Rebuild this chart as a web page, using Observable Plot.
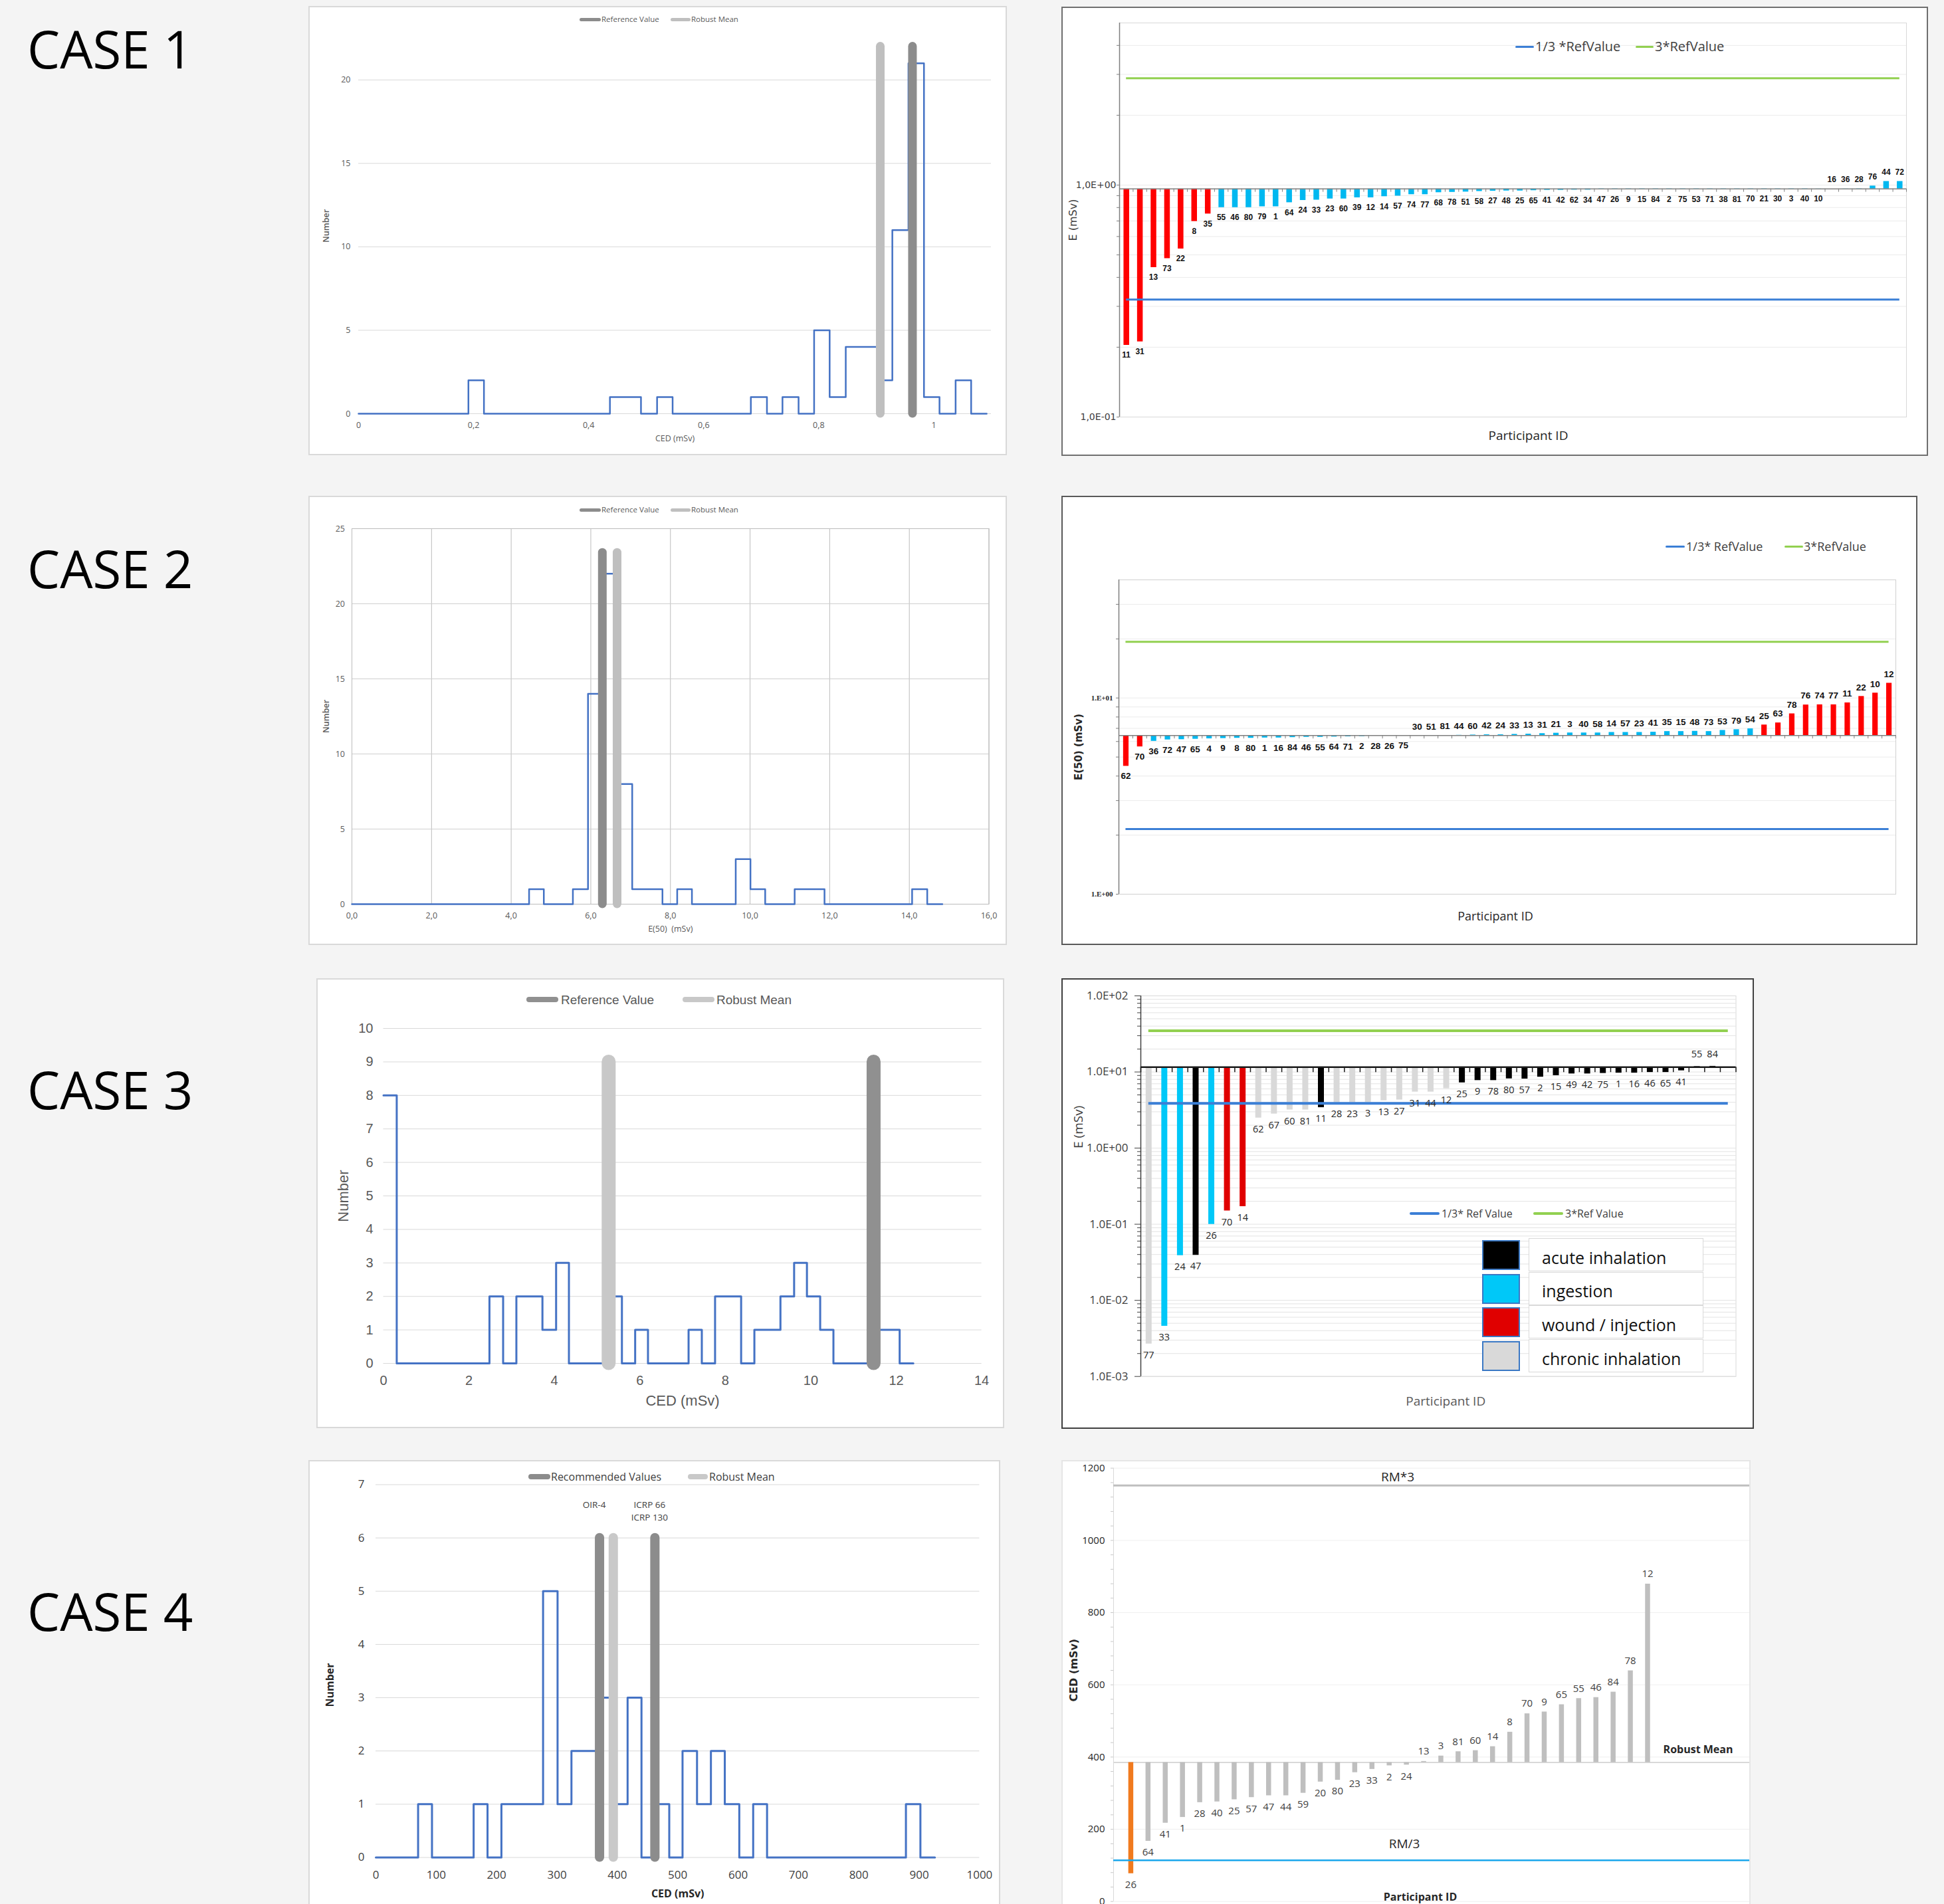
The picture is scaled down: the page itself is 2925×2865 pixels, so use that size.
<!DOCTYPE html>
<html>
<head>
<meta charset="utf-8">
<script src="https://cdn.jsdelivr.net/npm/d3@7"></script>
<script src="https://cdn.jsdelivr.net/npm/@observablehq/plot@0.6"></script>
<style>
html, body { margin: 0; padding: 0; }
body { width: 2925px; height: 2865px; background: #f4f4f4; position: relative; overflow: hidden; }
</style>
</head>
<body>
<script>
// ===================== DATA =====================
const caseLabels = ["CASE 1", "CASE 2", "CASE 3", "CASE 4"];

// ---- Case 1 : histogram of CED (mSv) ----
const c1HistEdges  = [0, 0.191, 0.218, 0.437, 0.491, 0.519, 0.546, 0.682, 0.710, 0.737, 0.765, 0.792, 0.819, 0.847, 0.901, 0.928, 0.956, 0.983, 1.010, 1.038, 1.065, 1.092];
const c1HistCounts = [0, 2, 0, 1, 0, 1, 0, 1, 0, 1, 0, 5, 1, 4, 2, 11, 21, 1, 0, 2, 0, 0];
const c1HistRobustMean = 0.907;
const c1HistReference = 0.963;
const c1HistXTicks = [0, 0.2, 0.4, 0.6, 0.8, 1];
const c1HistXLabels = ["0", "0,2", "0,4", "0,6", "0,8", "1"];
const c1HistYTicks = [0, 5, 10, 15, 20];

// ---- Case 1 : participants (E, mSv) ----
const c1Ids = [11,31,13,73,22,8,35,55,46,80,79,1,64,24,33,23,60,39,12,14,57,74,77,68,78,51,58,27,48,25,65,41,42,62,34,47,26,9,15,84,2,75,53,71,38,81,70,21,30,3,40,10,16,36,28,76,44,72];
const c1Values = [0.204,0.211,0.441,0.482,0.531,0.697,0.751,0.800,0.800,0.800,0.807,0.807,0.840,0.859,0.862,0.872,0.872,0.882,0.882,0.892,0.897,0.910,0.910,0.928,0.931,0.934,0.939,0.942,0.944,0.944,0.947,0.950,0.950,0.952,0.952,0.955,0.955,0.955,0.957,0.957,0.957,0.958,0.958,0.958,0.959,0.959,0.960,0.960,0.961,0.961,0.961,0.962,0.963,0.964,0.965,0.991,1.037,1.037];
const c1Routes = ["W","W","W","W","W","W","W",
  "I","I","I","I","I","I","I","I","I","I",
  "I","I","I","I","I","I","I","I","I","I",
  "I","I","I","I","I","I","I","I","I","I",
  "I","I","I","I","I","I","I","I","I","I",
  "I","I","I","I","I","I","I","I","I","I","I"];
const c1RefValue = 0.963;
const c1YTicks = [0.1, 1];
const c1YLabels = ["1,0E-01", "1,0E+00"];
const c1YMinor = [0.2,0.3,0.4,0.5,0.6,0.7,0.8,0.9,2,3,4];

// ---- Case 2 : histogram of E(50) (mSv) ----
const c2HistEdges  = [0, 4.45, 4.82, 5.55, 5.93, 6.29, 6.66, 7.04, 7.80, 8.17, 8.54, 9.64, 10.01, 10.38, 11.12, 11.87, 14.07, 14.45, 14.83];
const c2HistCounts = [0, 1, 0, 1, 14, 22, 8, 1, 0, 1, 0, 3, 1, 0, 1, 0, 1, 0, 0];
const c2HistReference = 6.29;
const c2HistRobustMean = 6.66;
const c2HistXTicks = [0, 2, 4, 6, 8, 10, 12, 14, 16];
const c2HistXLabels = ["0,0", "2,0", "4,0", "6,0", "8,0", "10,0", "12,0", "14,0", "16,0"];
const c2HistYTicks = [0, 5, 10, 15, 20, 25];

// ---- Case 2 : participants (E(50), mSv) ----
const c2Ids = [62,70,36,72,47,65,4,9,8,80,1,16,84,46,55,64,71,2,28,26,75,30,51,81,44,60,42,24,33,13,31,21,3,40,58,14,57,23,41,35,15,48,73,53,79,54,25,63,78,76,74,77,11,22,10,12];
const c2Values = [4.49,5.64,6.02,6.12,6.14,6.17,6.20,6.22,6.24,6.24,6.26,6.26,6.29,6.31,6.31,6.33,6.35,6.37,6.40,6.40,6.42,6.44,6.44,6.45,6.46,6.48,6.50,6.50,6.53,6.55,6.59,6.62,6.64,6.64,6.64,6.68,6.68,6.68,6.70,6.75,6.75,6.77,6.75,6.84,6.90,6.97,7.29,7.47,8.31,9.22,9.24,9.24,9.45,10.19,10.60,11.90];
const c2Routes = ["W","W",
  "I","I","I","I","I","I","I","I","I","I",
  "I","I","I","I","I","I","I","I","I","I",
  "I","I","I","I","I","I","I","I","I","I",
  "I","I","I","I","I","I","I","I","I","I",
  "I","I","I","I",
  "W","W","W","W","W","W","W","W","W","W"];
const c2RefValue = 6.44;
const c2YTicks = [1, 10];
const c2YLabels = ["1.E+00", "1.E+01"];
const c2YMinor = [2,3,4,5,6,7,8,9,20,30];

// ---- Case 3 : histogram of CED (mSv) ----
const c3HistEdges  = [0, 0.31, 2.48, 2.80, 3.11, 3.72, 4.04, 4.34, 5.27, 5.58, 5.89, 6.19, 7.14, 7.45, 7.76, 8.37, 8.68, 9.29, 9.61, 9.91, 10.22, 10.53, 11.46, 12.08, 12.40];
const c3HistCounts = [8, 0, 2, 0, 2, 1, 3, 0, 2, 0, 1, 0, 1, 0, 2, 0, 1, 2, 3, 2, 1, 0, 1, 0, 0];
const c3HistRobustMean = 5.27;
const c3HistReference = 11.47;
const c3HistXTicks = [0, 2, 4, 6, 8, 10, 12, 14];
const c3HistXLabels = ["0", "2", "4", "6", "8", "10", "12", "14"];
const c3HistYTicks = [0,1,2,3,4,5,6,7,8,9,10];

// ---- Case 3 : participants (E, mSv) ----
const c3Ids = [77,33,24,47,26,70,14,62,67,60,81,11,28,23,3,13,27,31,44,12,25,9,78,80,57,2,15,49,42,75,1,16,46,65,41,55,84];
const c3Values = [0.00267,0.00458,0.0388,0.0392,0.0995,0.150,0.171,2.49,2.81,3.18,3.18,3.41,3.92,3.97,4.0,4.2,4.3,5.46,5.46,6.06,7.22,7.74,7.74,8.15,8.1,8.58,8.98,9.46,9.46,9.6,9.7,9.7,9.88,9.88,10.4,11.8,11.9];
const c3Routes = ["C","I","I","A","I","W","W","C","C","C","C","A","C","C","C","C","C","C","C","C","A","A","A","A","A","A","A","A","A","A","A","A","A","A","A","A","A"];
const c3RefValue = 11.6;
const c3Slots = 38;
const c3YTicks = [0.001, 0.01, 0.1, 1, 10, 100];
const c3YLabels = ["1.0E-03", "1.0E-02", "1.0E-01", "1.0E+00", "1.0E+01", "1.0E+02"];
const c3Categories = ["acute inhalation", "ingestion", "wound / injection", "chronic inhalation"];
const c3CategoryCodes = ["A", "I", "W", "C"];

// ---- Case 4 : histogram of CED (mSv) ----
const c4HistEdges  = [0, 70, 93, 162, 185, 208, 277, 301, 324, 370, 393, 417, 440, 462, 486, 508, 532, 555, 578, 602, 625, 648, 878, 902, 926];
const c4HistCounts = [0, 1, 0, 1, 0, 1, 5, 1, 2, 3, 1, 3, 0, 1, 0, 2, 1, 2, 1, 0, 1, 0, 1, 0, 0];
const c4Recommended = [370.5, 462.2];
const c4RecommendedLabels = ["OIR-4", "ICRP 66\nICRP 130"];
const c4HistRobustMean = 393.3;
const c4HistXTicks = [0,100,200,300,400,500,600,700,800,900,1000];
const c4HistXLabels = ["0","100","200","300","400","500","600","700","800","900","1000"];
const c4HistYTicks = [0,1,2,3,4,5,6,7];

// ---- Case 4 : participants (CED, mSv) ----
const c4Ids = [26,64,41,1,28,40,25,57,47,44,59,20,80,23,33,2,24,13,3,81,60,14,8,70,9,65,55,46,84,78,12];
const c4Values = [77,167,217,233,274,276,282,288,293,293,300,331,336,357,366,376,378,388,403,415,418,429,469,520,525,545,562,565,580,639,879];
const c4Outliers = [26];
const c4RobustMean = 385;
const c4UpperLine = 1152;   // RM*3 line as drawn
const c4LowerLine = 114;    // RM/3 line as drawn
const c4Slots = 37;
const c4YTicks = [0, 200, 400, 600, 800, 1000, 1200];
const c4YLabels = ["0", "200", "400", "600", "800", "1000", "1200"];

// ===================== STYLE =====================
const F_CAL = "'Open Sans', sans-serif";
const F_ARIAL = "'Liberation Sans', Arial, sans-serif";
const F_VERD = "'DejaVu Sans', Verdana, sans-serif";
const F_SERIF = "'Liberation Serif', 'Times New Roman', serif";
const HIST_BLUE = "#4472c4";
const REF_DARK = "#8c8c8c";
const REF_LIGHT = "#bfbfbf";
const GREEN = "#92d050";
const LINE_BLUE = "#3b7fd6";
const routeColors12 = {W: "#ff0000", I: "#00b8f0"};
const routeColors3 = {A: "#000000", I: "#00c8f8", W: "#e00000", C: "#d9d9d9"};

// ===================== HELPERS =====================
const body = document.body;
function mount(svg, left, top) {
  svg.style.position = "absolute";
  svg.style.left = left + "px";
  svg.style.top = top + "px";
  svg.style.maxWidth = "none";
  body.appendChild(svg);
}
function border(left, top, w, h, color, bw) {
  const d = document.createElement("div");
  d.style.cssText = `position:absolute;left:${left}px;top:${top}px;width:${w}px;height:${h}px;box-sizing:border-box;border:${bw}px solid ${color};pointer-events:none;`;
  body.appendChild(d);
}
function label(str, x, y, size, family, opts = {}) {
  const d = document.createElement("div");
  d.textContent = str;
  d.style.cssText = `position:absolute;white-space:pre;line-height:1;font-family:${family};font-size:${size}px;font-weight:${opts.weight || "normal"};color:${opts.color || "#404040"};left:${x}px;top:${y - size / 2}px;`;
  if (opts.bg) d.style.background = opts.bg;
  body.appendChild(d);
  return d;
}
function swatch(x1, x2, y, thick, color) {
  const d = document.createElement("div");
  d.style.cssText = `position:absolute;left:${x1}px;top:${y - thick / 2}px;width:${x2 - x1}px;height:${thick}px;background:${color};border-radius:${thick / 2}px;`;
  body.appendChild(d);
}
function title(str, o) {
  return Plot.text([str], {
    text: d => d, frameAnchor: o.anchor, dx: o.dx || 0, dy: o.dy || 0, rotate: o.rotate || 0,
    textAnchor: "middle", lineAnchor: "middle",
    fill: o.color || "#404040", fontSize: o.size, fontWeight: o.weight || "normal", fontFamily: o.font
  });
}

function histPlot(c) {
  const steps = c.edges.map((x, i) => ({x, n: c.counts[i]}));
  const marks = [];
  if (c.gridX) marks.push(Plot.gridX({ticks: c.xTicks, stroke: c.gridX, strokeOpacity: 1}));
  marks.push(Plot.gridY({ticks: c.yTicks, stroke: c.gridY, strokeOpacity: 1}));
  if (c.frame) marks.push(Plot.frame({stroke: c.frame}));
  marks.push(Plot.axisY({ticks: c.yTicks, tickSize: 0, tickPadding: c.yPad, label: null, tickFormat: d => String(d)}));
  marks.push(Plot.axisX({ticks: c.xTicks, tickSize: 0, tickPadding: c.xPad, label: null,
    tickFormat: d => c.xLabels[c.xTicks.indexOf(d)]}));
  marks.push(Plot.line(steps, {x: "x", y: "n", curve: "step-after", stroke: HIST_BLUE, strokeWidth: c.lineW}));
  marks.push(Plot.ruleX(c.refs, {x: "x", y1: 0, y2: c.refTop, stroke: "color", strokeWidth: c.refW, strokeLinecap: "round"}));
  marks.push(title(c.xTitle, {anchor: "bottom", dy: c.xTitleDy, size: c.titleSize, font: c.titleFont, weight: c.xWeight, color: c.titleColor}));
  marks.push(title(c.yTitle, {anchor: "left", dx: c.yTitleDx, dy: c.yTitleDy || 0, rotate: -90, size: c.titleSize, font: c.titleFont, weight: c.yWeight, color: c.titleColor}));
  if (c.extra) marks.push(...c.extra);
  return Plot.plot({
    width: c.w, height: c.h,
    marginLeft: c.ml, marginRight: c.mr, marginTop: c.mt, marginBottom: c.mb,
    x: {domain: c.xDomain}, y: {domain: c.yDomain},
    color: {type: "identity"},
    style: {background: "#fff", color: c.tickColor, fontFamily: c.tickFont, fontSize: c.tickFontSize + "px"},
    marks
  });
}

// ===================== CASE LABELS =====================
const caseLabelY = [73, 855, 1639, 2424];
caseLabels.forEach((t, i) => label(t, 41, caseLabelY[i], 78, F_CAL, {color: "#000"}));

// ===================== CASE 1 =====================
mount(histPlot({
  w: 1051, h: 676, ml: 75, mr: 24, mt: 48, mb: 63,
  xDomain: [0, 1.1], yDomain: [0, 22.5],
  edges: c1HistEdges, counts: c1HistCounts,
  xTicks: c1HistXTicks, xLabels: c1HistXLabels, yTicks: c1HistYTicks,
  gridY: "#d9d9d9", xPad: 12.5, yPad: 12,
  tickFont: F_CAL, tickFontSize: 12.5, tickColor: "#595959",
  lineW: 2.5, refW: 13, refTop: 22,
  refs: [{x: c1HistRobustMean, color: REF_LIGHT}, {x: c1HistReference, color: REF_DARK}],
  xTitle: "CED (mSv)", xTitleDy: 37, yTitle: "Number", yTitleDx: -49,
  titleSize: 12.5, titleFont: F_CAL, xWeight: "normal", yWeight: 600, titleColor: "#595959"
}), 464, 9);
border(464, 9, 1051, 676, "#d9d9d9", 2);
swatch(872, 904, 29, 5, REF_DARK); label("Reference Value", 905, 29, 11.5, F_CAL, {color: "#595959"});
swatch(1009, 1039, 29, 5, REF_LIGHT); label("Robust Mean", 1040, 29, 11.5, F_CAL, {color: "#595959"});

{
  const base = c1RefValue;
  const bars = c1Ids.map((id, i) => ({rank: i + 1, id, value: c1Values[i], color: routeColors12[c1Routes[i]]}));
  const n = bars.length;
  const bounds = d3.range(0.5, n + 1, 1);
  mount(Plot.plot({
    width: 1304, height: 676, marginLeft: 87, marginRight: 33, marginTop: 24, marginBottom: 59,
    x: {domain: [0.5, n + 0.5], axis: null},
    y: {type: "log", domain: [0.1, 5]},
    color: {type: "identity"},
    style: {background: "#fff", color: "#404040", fontFamily: F_VERD, fontSize: "14px"},
    marks: [
      Plot.gridY({ticks: c1YMinor.concat(c1YTicks), stroke: "#ebebeb", strokeOpacity: 1}),
      Plot.frame({stroke: "#d9d9d9"}),
      Plot.ruleX([0.5], {stroke: "#7f7f7f", strokeWidth: 1.5}),
      Plot.axisY({ticks: c1YMinor, tickSize: 4, tickFormat: () => "", label: null, stroke: "#7f7f7f"}),
      Plot.axisY({ticks: c1YTicks, tickSize: 4, tickPadding: 1, label: null, stroke: "#7f7f7f",
        tickFormat: d => c1YLabels[c1YTicks.indexOf(d)]}),
      Plot.ruleX(bars, {x: "rank", y1: base, y2: "value", stroke: "color", strokeWidth: 8.5}),
      Plot.ruleY([base], {stroke: "#7f7f7f", strokeWidth: 1.5}),
      Plot.ruleX(bounds, {x: d => d, y1: base, y2: base * 0.968, stroke: "#7f7f7f"}),
      Plot.ruleY([base * 3], {x1: 1, x2: n, stroke: GREEN, strokeWidth: 3}),
      Plot.ruleY([base / 3], {x1: 1, x2: n, stroke: LINE_BLUE, strokeWidth: 3}),
      Plot.text(bars.filter(d => d.value < base), {x: "rank", y: "value", text: "id", dy: 15, fill: "#111", fontWeight: "bold", fontSize: 12, fontFamily: F_ARIAL}),
      Plot.text(bars.filter(d => d.value >= base), {x: "rank", y: "value", text: "id", dy: -14, fill: "#111", fontWeight: "bold", fontSize: 12, fontFamily: F_ARIAL}),
      title("Participant ID", {anchor: "bottom", dx: 23, dy: 28, size: 19, font: F_CAL, color: "#262626"}),
      title("E (mSv)", {anchor: "left", dx: -70, rotate: -90, size: 16, font: F_VERD, color: "#404040"})
    ]
  }), 1597, 10);
  border(1597, 10, 1304, 676, "#6f6f6f", 2);
  swatch(2280, 2308, 70, 3, LINE_BLUE); label("1/3 *RefValue", 2310, 70, 20, F_CAL, {color: "#404040"});
  swatch(2461, 2488, 70, 3, GREEN); label("3*RefValue", 2490, 70, 20, F_CAL, {color: "#404040"});
}

// ===================== CASE 2 =====================
mount(histPlot({
  w: 1051, h: 676, ml: 65, mr: 27.5, mt: 49, mb: 62,
  xDomain: [0, 16], yDomain: [0, 25],
  edges: c2HistEdges, counts: c2HistCounts,
  xTicks: c2HistXTicks, xLabels: c2HistXLabels, yTicks: c2HistYTicks,
  gridX: "#bcbcbc", gridY: "#cfcfcf", frame: "#bcbcbc", xPad: 12.5, yPad: 10.5,
  tickFont: F_CAL, tickFontSize: 12.5, tickColor: "#595959",
  lineW: 2.5, refW: 13, refTop: 23.4,
  refs: [{x: c2HistReference, color: REF_DARK}, {x: c2HistRobustMean, color: REF_LIGHT}],
  xTitle: "E(50)  (mSv)", xTitleDy: 37, yTitle: "Number", yTitleDx: -39,
  titleSize: 12.5, titleFont: F_CAL, xWeight: "normal", yWeight: 600, titleColor: "#595959"
}), 464, 746);
border(464, 746, 1051, 676, "#d9d9d9", 2);
swatch(872, 904, 767, 5, REF_DARK); label("Reference Value", 905, 767, 11.5, F_CAL, {color: "#595959"});
swatch(1009, 1039, 767, 5, REF_LIGHT); label("Robust Mean", 1040, 767, 11.5, F_CAL, {color: "#595959"});

{
  const base = c2RefValue;
  const bars = c2Ids.map((id, i) => ({rank: i + 1, id, value: c2Values[i], color: routeColors12[c2Routes[i]]}));
  const n = bars.length;
  const bounds = d3.range(0.5, n + 1, 1);
  mount(Plot.plot({
    width: 1288, height: 676, marginLeft: 86, marginRight: 33, marginTop: 126, marginBottom: 77,
    x: {domain: [0.5, n + 0.5], axis: null},
    y: {type: "log", domain: [1, 40]},
    color: {type: "identity"},
    style: {background: "#fff", color: "#262626", fontFamily: F_SERIF, fontSize: "11px", fontWeight: "bold"},
    marks: [
      Plot.gridY({ticks: c2YMinor.concat(c2YTicks), stroke: "#ebebeb", strokeOpacity: 1}),
      Plot.frame({stroke: "#d0d0d0"}),
      Plot.ruleX([0.5], {stroke: "#7f7f7f", strokeWidth: 1.5}),
      Plot.axisY({ticks: c2YMinor, tickSize: 4, tickFormat: () => "", label: null, stroke: "#7f7f7f"}),
      Plot.axisY({ticks: c2YTicks, tickSize: 4, tickPadding: 5, label: null, stroke: "#7f7f7f",
        tickFormat: d => c2YLabels[c2YTicks.indexOf(d)]}),
      Plot.ruleX(bars, {x: "rank", y1: base, y2: "value", stroke: "color", strokeWidth: 8.2}),
      Plot.ruleY([base], {stroke: "#7f7f7f", strokeWidth: 1.5}),
      Plot.ruleX(bounds, {x: d => d, y1: base, y2: base * 0.962, stroke: "#7f7f7f"}),
      Plot.ruleY([base * 3], {x1: 1, x2: n, stroke: GREEN, strokeWidth: 3}),
      Plot.ruleY([base / 3], {x1: 1, x2: n, stroke: LINE_BLUE, strokeWidth: 3}),
      Plot.text(bars.filter(d => d.value < base), {x: "rank", y: "value", text: "id", dy: 15, fill: "#111", fontWeight: "bold", fontSize: 13.5, fontFamily: F_ARIAL}),
      Plot.text(bars.filter(d => d.value >= base), {x: "rank", y: "value", text: "id", dy: -13.5, fill: "#111", fontWeight: "bold", fontSize: 13.5, fontFamily: F_ARIAL}),
      title("Participant ID", {anchor: "bottom", dx: -18, dy: 34, size: 18, font: F_CAL, color: "#262626"}),
      title("E(50) (mSv)", {anchor: "left", dx: -60, dy: 15, rotate: -90, size: 15, font: F_VERD, weight: "bold", color: "#262626"})
    ]
  }), 1597, 746);
  border(1597, 746, 1288, 676, "#595959", 2);
  swatch(2506, 2535, 822, 3, LINE_BLUE); label("1/3* RefValue", 2537, 822, 18, F_CAL, {color: "#404040"});
  swatch(2685, 2713, 822, 3, GREEN); label("3*RefValue", 2714, 822, 18, F_CAL, {color: "#404040"});
}

// ===================== CASE 3 =====================
mount(histPlot({
  w: 1035, h: 677, ml: 100.5, mr: 34.4, mt: 75, mb: 98,
  xDomain: [0, 14], yDomain: [0, 10],
  edges: c3HistEdges, counts: c3HistCounts,
  xTicks: c3HistXTicks, xLabels: c3HistXLabels, yTicks: c3HistYTicks,
  gridY: "#d9d9d9", xPad: 18, yPad: 15.5,
  tickFont: F_ARIAL, tickFontSize: 20, tickColor: "#595959",
  lineW: 3, refW: 21, refTop: 9,
  refs: [{x: c3HistRobustMean, color: "#c8c8c8"}, {x: c3HistReference, color: "#909090"}],
  xTitle: "CED (mSv)", xTitleDy: 56.5, yTitle: "Number", yTitleDx: -60.5,
  titleSize: 22, titleFont: F_ARIAL, xWeight: "normal", yWeight: "normal", titleColor: "#595959"
}), 476, 1472);
border(476, 1472, 1035, 677, "#d9d9d9", 2);
swatch(792, 840, 1504, 8, "#909090"); label("Reference Value", 844, 1504, 19, F_ARIAL, {color: "#595959"});
swatch(1027, 1075, 1504, 8, "#c8c8c8"); label("Robust Mean", 1078, 1504, 19, F_ARIAL, {color: "#595959"});

{
  const base = c3RefValue;
  const bars = c3Ids.map((id, i) => ({rank: i + 1, id, value: c3Values[i], color: routeColors3[c3Routes[i]]}));
  const bounds = d3.range(0.5, c3Slots + 1, 1);
  const minor = [];
  for (const t of c3YTicks.slice(0, -1)) for (let m = 2; m <= 9; ++m) minor.push(t * m);
  mount(Plot.plot({
    width: 1042, height: 678, marginLeft: 119, marginRight: 27.5, marginTop: 26, marginBottom: 79.3,
    x: {domain: [0.5, c3Slots + 0.5], axis: null},
    y: {type: "log", domain: [0.001, 100]},
    color: {type: "identity"},
    style: {background: "#fff", color: "#404040", fontFamily: F_CAL, fontSize: "17px"},
    marks: [
      Plot.gridY({ticks: minor.concat(c3YTicks), stroke: "#e3e3e3", strokeOpacity: 1}),
      Plot.frame({stroke: "#d9d9d9"}),
      Plot.ruleX([0.5], {stroke: "#404040", strokeWidth: 1.5}),
      Plot.axisY({ticks: minor, tickSize: 5, tickFormat: () => "", label: null, stroke: "#404040"}),
      Plot.axisY({ticks: c3YTicks, tickSize: 9, tickPadding: 10, label: null, stroke: "#404040",
        tickFormat: d => c3YLabels[c3YTicks.indexOf(d)]}),
      Plot.ruleX(bars, {x: "rank", y1: base, y2: "value", stroke: "color", strokeWidth: 9}),
      Plot.ruleY([base], {stroke: "#1a1a1a", strokeWidth: 2.5}),
      Plot.ruleX(bounds, {x: d => d, y1: base, y2: base * 0.85, stroke: "#1a1a1a", strokeWidth: 1.5}),
      Plot.ruleY([base * 3], {x1: 1, x2: c3Slots, stroke: GREEN, strokeWidth: 4}),
      Plot.ruleY([base / 3], {x1: 1, x2: c3Slots, stroke: LINE_BLUE, strokeWidth: 4}),
      Plot.text(bars.filter(d => d.value < base), {x: "rank", y: "value", text: "id", dy: 17, fill: "#262626", fontSize: 14.5, fontFamily: F_CAL}),
      Plot.text(bars.filter(d => d.value >= base), {x: "rank", y: "value", text: "id", dy: -18, fill: "#262626", fontSize: 14.5, fontFamily: F_CAL}),
      title("Participant ID", {anchor: "bottom", dx: 11, dy: 38, size: 19, font: F_CAL, color: "#595959"}),
      title("E (mSv)", {anchor: "left", dx: -94, dy: -89, rotate: -90, size: 19, font: F_CAL, color: "#404040"})
    ]
  }), 1597, 1472);
  border(1597, 1472, 1042, 678, "#404040", 2);
  swatch(2121, 2166, 1826, 4, LINE_BLUE); label("1/3* Ref Value", 2169, 1826, 16, F_CAL, {color: "#404040"});
  swatch(2307, 2352, 1826, 4, GREEN); label("3*Ref Value", 2355, 1826, 16, F_CAL, {color: "#404040"});
  // category legend
  c3Categories.forEach((name, i) => {
    const top = 1866 + i * 50.7;
    const b = document.createElement("div");
    b.style.cssText = `position:absolute;left:2230px;top:${top}px;width:57px;height:45px;box-sizing:border-box;border:2px solid #3b78c4;background:${routeColors3[c3CategoryCodes[i]]};`;
    body.appendChild(b);
    const t = document.createElement("div");
    t.style.cssText = `position:absolute;left:2300px;top:${top - 3}px;width:263px;height:50px;box-sizing:border-box;border:1.5px solid #d9d9d9;background:#fff;`;
    body.appendChild(t);
    label(name, 2320, top + 26, 25, F_CAL, {color: "#111"});
  });
}

// ===================== CASE 4 =====================
mount(histPlot({
  w: 1041, h: 672, ml: 101, mr: 31.6, mt: 36.5, mb: 74.5,
  xDomain: [0, 1000], yDomain: [0, 7],
  edges: c4HistEdges, counts: c4HistCounts,
  xTicks: c4HistXTicks, xLabels: c4HistXLabels, yTicks: c4HistYTicks,
  gridY: "#d9d9d9", xPad: 20, yPad: 17,
  tickFont: F_CAL, tickFontSize: 17, tickColor: "#404040",
  lineW: 3, refW: 14, refTop: 6,
  refs: [{x: c4Recommended[0], color: REF_DARK}, {x: c4HistRobustMean, color: "#c9c9c9"}, {x: c4Recommended[1], color: REF_DARK}],
  xTitle: "CED (mSv)", xTitleDy: 54.5, yTitle: "Number", yTitleDx: -69, yTitleDy: 21,
  titleSize: 16, titleFont: F_CAL, xWeight: "bold", yWeight: "bold", titleColor: "#262626",
  extra: [Plot.text(c4Recommended.map((x, i) => ({x, t: c4RecommendedLabels[i]})), {
    x: "x", text: "t", frameAnchor: "top", dx: -8, dy: 22, lineHeight: 1.37,
    fill: "#404040", fontSize: 13.5, fontFamily: F_CAL})]
}), 464, 2197);
border(464, 2197, 1041, 672, "#d9d9d9", 2);
swatch(795, 828, 2222, 8, REF_DARK); label("Recommended Values", 829, 2222, 16, F_CAL, {color: "#404040"});
swatch(1035, 1065, 2222, 8, "#c9c9c9"); label("Robust Mean", 1067, 2222, 16, F_CAL, {color: "#404040"});

{
  const base = c4RobustMean;
  const bars = c4Ids.map((id, i) => ({rank: i + 1, id, value: c4Values[i], color: c4Outliers.includes(id) ? "#f07a1e" : "#bfbfbf"}));
  const minor = d3.range(0, 1201, 40).filter(v => v % 200 !== 0);
  mount(Plot.plot({
    width: 1037, height: 672, marginLeft: 78, marginRight: 0, marginTop: 11.7, marginBottom: 8.3,
    x: {domain: [0, c4Slots], axis: null},
    y: {domain: [0, 1200]},
    color: {type: "identity"},
    style: {background: "#fff", color: "#262626", fontFamily: F_CAL, fontSize: "15px"},
    marks: [
      Plot.gridY({ticks: c4YTicks, stroke: "#efefef", strokeOpacity: 1}),
      Plot.ruleX([0], {stroke: "#d9d9d9"}),
      Plot.axisY({ticks: minor, tickSize: 4, tickFormat: () => "", label: null, stroke: "#c8c8c8"}),
      Plot.axisY({ticks: c4YTicks, tickSize: 4, tickPadding: 9, label: null, stroke: "#c8c8c8",
        tickFormat: d => c4YLabels[c4YTicks.indexOf(d)]}),
      Plot.ruleY([base], {stroke: "#d9d9d9", strokeWidth: 2}),
      Plot.ruleX(bars, {x: "rank", y1: base, y2: "value", stroke: "color", strokeWidth: 7.5}),
      Plot.ruleY([c4UpperLine], {stroke: "#bfbfbf", strokeWidth: 3}),
      Plot.ruleY([c4LowerLine], {stroke: "#1aa7ec", strokeWidth: 2.5}),
      Plot.text(bars.filter(d => d.value < base), {x: "rank", y: "value", text: "id", dy: 17, fill: "#404040", fontSize: 15, fontFamily: F_CAL}),
      Plot.text(bars.filter(d => d.value >= base), {x: "rank", y: "value", text: "id", dy: -15, fill: "#404040", fontSize: 15, fontFamily: F_CAL}),
      Plot.text(["RM*3"], {text: d => d, y: c4UpperLine, dx: -52, dy: -12, fill: "#262626", fontSize: 19, fontFamily: F_CAL}),
      Plot.text(["RM/3"], {text: d => d, y: c4LowerLine, dx: -42, dy: -24, fill: "#262626", fontSize: 19, fontFamily: F_CAL}),
      Plot.text(["Robust Mean"], {text: d => d, y: base, dx: 400, dy: -19, fill: "#262626", fontSize: 16, fontWeight: "bold", fontFamily: F_CAL}),
      title("Participant ID", {anchor: "bottom", dx: -18, dy: -6, size: 16, font: F_CAL, weight: "bold", color: "#262626"}),
      title("CED (mSv)", {anchor: "left", dx: -59.5, dy: -22, rotate: -90, size: 16, font: F_VERD, weight: "bold", color: "#262626"})
    ]
  }), 1597, 2197);
  border(1597, 2197, 1037, 672, "#e6e6e6", 2);
}
</script>
</body>
</html>
